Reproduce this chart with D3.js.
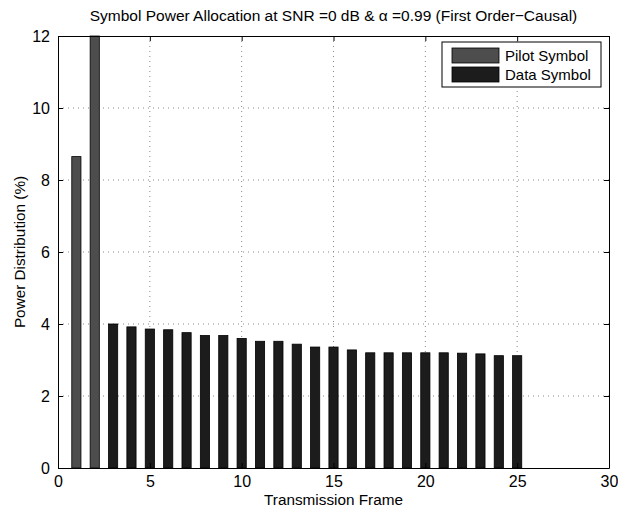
<!DOCTYPE html>
<html>
<head>
<meta charset="utf-8">
<script src="https://cdn.jsdelivr.net/npm/d3@7"></script>
<style>
  body { margin: 0; background: #fff; }
  text { font-family: "Liberation Sans", Arial, sans-serif; }
</style>
</head>
<body>
<svg id="chart" width="618" height="512"></svg>
<script>
// data
var pilotFrames = [1, 2];
var pilotValues = [8.65, 12.0];
var dataFrames = [3, 4, 5, 6, 7, 8, 9, 10, 11, 12, 13, 14, 15, 16, 17, 18, 19, 20, 21, 22, 23, 24, 25];
var dataValues = [4.0, 3.92, 3.86, 3.84, 3.76, 3.68, 3.68, 3.6, 3.52, 3.52, 3.44, 3.36, 3.36,
                  3.28, 3.2, 3.2, 3.2, 3.2, 3.2, 3.19, 3.17, 3.12, 3.12];
var xTicks = [0, 5, 10, 15, 20, 25, 30];
var yTicks = [0, 2, 4, 6, 8, 10, 12];
var seriesNames = ["Pilot Symbol", "Data Symbol"];
var seriesColors = ["#4d4d4d", "#1c1c1c"];

var svg = d3.select("#chart");
var pl = 58, pr = 609, pt = 36, pb = 468;

var x = d3.scaleLinear().domain([0, 30]).range([pl, pr]);
var y = d3.scaleLinear().domain([0, 12]).range([pb, pt]);
var barW = x(0.5) - x(0);

// grid
svg.append("g").selectAll("line")
  .data(xTicks.slice(1, -1))
  .enter().append("line")
  .attr("x1", d => x(d)).attr("x2", d => x(d))
  .attr("y1", pt).attr("y2", pb)
  .style("stroke", "#888").style("stroke-dasharray", "1,4");
svg.append("g").selectAll("line")
  .data(yTicks.slice(1, -1))
  .enter().append("line")
  .attr("y1", d => y(d)).attr("y2", d => y(d))
  .attr("x1", pl).attr("x2", pr)
  .style("stroke", "#888").style("stroke-dasharray", "1,4");

// bars
function drawBars(frames, values, color) {
  svg.append("g").selectAll("rect")
    .data(frames)
    .enter().append("rect")
    .attr("x", d => x(d) - barW / 2)
    .attr("width", barW)
    .attr("y", (d, i) => y(values[i]))
    .attr("height", (d, i) => y(0) - y(values[i]))
    .attr("fill", color)
    .style("stroke", "#000").style("stroke-width", 0.8);
}
drawBars(pilotFrames, pilotValues, seriesColors[0]);
drawBars(dataFrames, dataValues, seriesColors[1]);

// axes (MATLAB box with inward ticks)
var xAxisB = d3.axisBottom(x).tickValues(xTicks).tickSizeInner(-5).tickSizeOuter(0).tickPadding(8);
var xAxisT = d3.axisTop(x).tickValues(xTicks).tickSizeInner(-5).tickSizeOuter(0).tickFormat("");
var yAxisL = d3.axisLeft(y).tickValues(yTicks).tickSizeInner(-5).tickSizeOuter(0).tickPadding(8);
var yAxisR = d3.axisRight(y).tickValues(yTicks).tickSizeInner(-5).tickSizeOuter(0).tickFormat("");

function styleAxis(g) {
  g.select(".domain").style("stroke", "#000").style("stroke-width", 1);
  g.selectAll(".tick line").style("stroke", "#000");
  g.selectAll(".tick text").style("font-size", "16px").style("fill", "#000")
    .style("font-family", "Liberation Sans, Arial, sans-serif");
}
svg.append("g").attr("transform", "translate(0," + pb + ")").call(xAxisB).call(styleAxis);
svg.append("g").attr("transform", "translate(0," + pt + ")").call(xAxisT).call(styleAxis);
svg.append("g").attr("transform", "translate(" + pl + ",0)").call(yAxisL).call(styleAxis);
svg.append("g").attr("transform", "translate(" + pr + ",0)").call(yAxisR).call(styleAxis);

// title and labels
svg.append("text")
  .attr("x", (pl + pr) / 2).attr("y", 21)
  .attr("text-anchor", "middle").style("font-size", "15.5px")
  .text("Symbol Power Allocation at SNR =0 dB & \u03b1 =0.99 (First Order\u2212Causal)");
svg.append("text")
  .attr("x", (pl + pr) / 2).attr("y", 505)
  .attr("text-anchor", "middle").style("font-size", "15.3px")
  .text("Transmission Frame");
svg.append("text")
  .attr("transform", "translate(25," + ((pt + pb) / 2) + ") rotate(-90)")
  .attr("text-anchor", "middle").style("font-size", "15.3px")
  .text("Power Distribution (%)");

// legend
var legend = svg.append("g").attr("transform", "translate(442,42)");
legend.append("rect").attr("width", 159).attr("height", 45)
  .attr("fill", "#fff").style("stroke", "#000").style("stroke-width", 1);
var items = legend.selectAll("g.item")
  .data(seriesNames)
  .enter().append("g")
  .attr("transform", (d, i) => "translate(10," + (6 + i * 19) + ")");
items.append("rect").attr("width", 47).attr("height", 15)
  .attr("fill", (d, i) => seriesColors[i]).style("stroke", "#000").style("stroke-width", 0.8);
items.append("text").attr("x", 53).attr("y", 13)
  .style("font-size", "15px").text(d => d);
</script>
</body>
</html>
